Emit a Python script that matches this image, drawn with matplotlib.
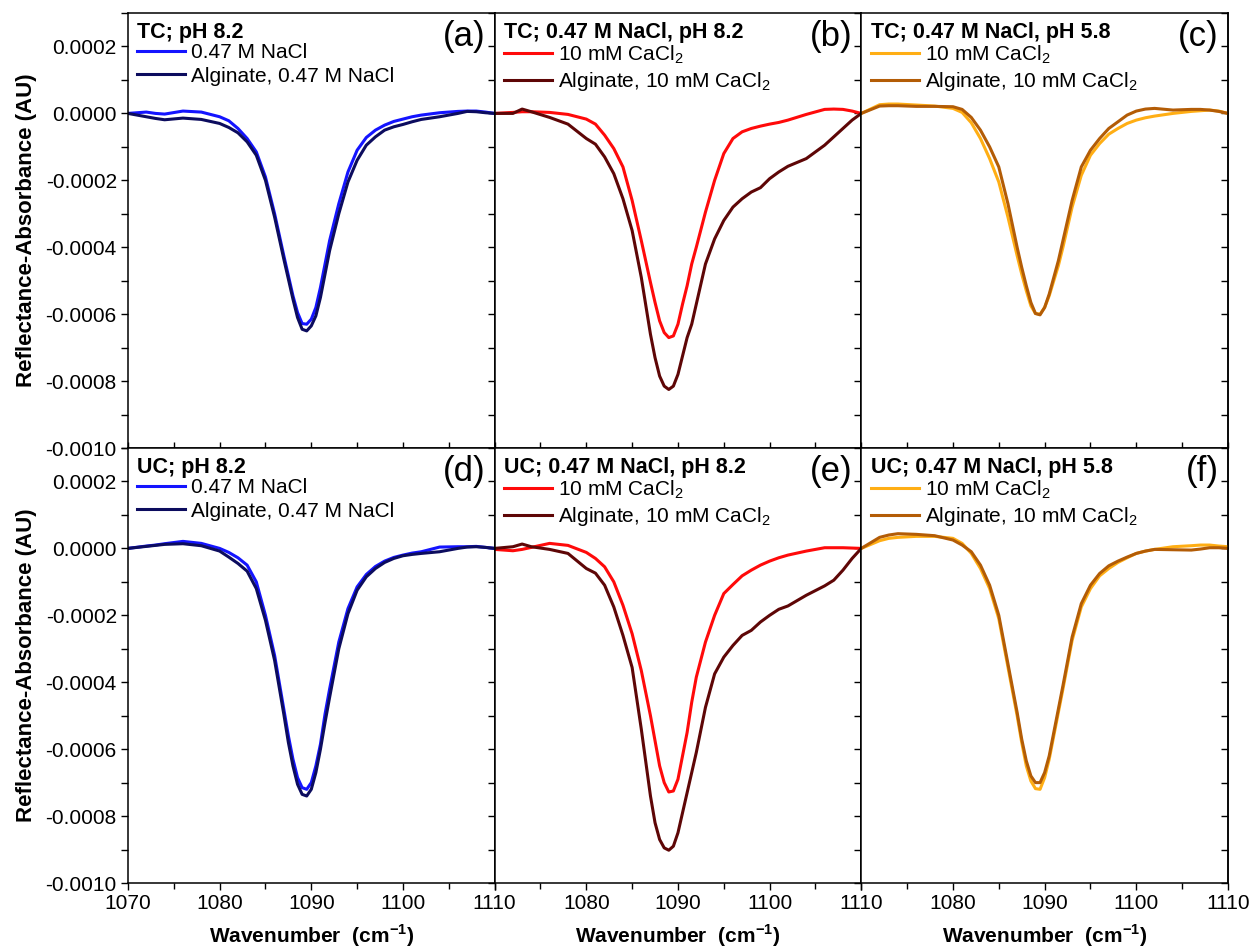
import numpy as np
import matplotlib
matplotlib.use("Agg")
import matplotlib.pyplot as plt
from matplotlib.ticker import MultipleLocator, FormatStrFormatter, FuncFormatter

plt.rcParams['font.family'] = ['Liberation Sans', 'DejaVu Sans']
plt.rcParams['mathtext.fontset'] = 'custom'
plt.rcParams['mathtext.rm'] = 'Liberation Sans'
plt.rcParams['mathtext.bf'] = 'Liberation Sans:bold'
plt.rcParams['axes.unicode_minus'] = False

# wavenumber grid (cm-1) shared by all spectra
wn = np.array([1070, 1072, 1073, 1074, 1076, 1078, 1080, 1081, 1082, 1083, 1084, 1085, 1086, 1087,
               1087.5, 1088, 1088.5, 1089, 1089.5, 1090, 1090.5, 1091, 1091.5,
               1092, 1093, 1094, 1095, 1096, 1097, 1098, 1099, 1100, 1101, 1102,
               1104, 1106, 1107, 1108, 1109, 1110])

# absorbance values in units of 1e-4 AU
# (a) TC; pH 8.2
a_nacl = [0, 0.04, 0.0, -0.02, 0.07, 0.04, -0.10, -0.22, -0.45, -0.75, -1.15, -1.9, -3.0, -4.25,
          -4.85, -5.45, -5.95, -6.28, -6.3, -6.15, -5.8, -5.2, -4.5,
          -3.8, -2.7, -1.75, -1.1, -0.72, -0.5, -0.35, -0.24, -0.17, -0.1, -0.05,
          0.02, 0.06, 0.07, 0.07, 0.04, 0]
a_alg = [0, -0.1, -0.15, -0.19, -0.14, -0.18, -0.3, -0.42, -0.58, -0.85, -1.25, -2.0, -3.1, -4.35,
         -4.95, -5.55, -6.1, -6.45, -6.5, -6.35, -6.05, -5.5, -4.8,
         -4.1, -3.0, -2.05, -1.4, -0.95, -0.7, -0.5, -0.4, -0.33, -0.25, -0.18,
         -0.1, 0.0, 0.06, 0.05, 0.02, 0]
# (b) TC; 0.47 M NaCl, pH 8.2
b_ca = [0, 0.03, 0.05, 0.05, 0.03, -0.03, -0.17, -0.32, -0.65, -1.05, -1.6, -2.6, -3.8, -5.05,
        -5.65, -6.2, -6.55, -6.7, -6.65, -6.3, -5.7, -5.15, -4.5,
        -4.0, -2.95, -2.0, -1.2, -0.75, -0.55, -0.45, -0.38, -0.32, -0.27, -0.2,
        -0.03, 0.12, 0.13, 0.12, 0.07, 0]
b_alg = [0, 0.0, 0.13, 0.05, -0.12, -0.32, -0.75, -0.92, -1.3, -1.8, -2.55, -3.5, -4.9, -6.6,
         -7.3, -7.85, -8.15, -8.25, -8.15, -7.8, -7.25, -6.7, -6.3,
         -5.7, -4.5, -3.75, -3.2, -2.8, -2.55, -2.35, -2.22, -1.95, -1.75, -1.58,
         -1.35, -0.95, -0.7, -0.45, -0.2, 0]
# (c) TC; 0.47 M NaCl, pH 5.8
c_ca = [0, 0.26, 0.28, 0.28, 0.25, 0.22, 0.15, 0.03, -0.28, -0.75, -1.35, -2.05, -3.1, -4.25,
        -4.8, -5.3, -5.75, -5.98, -6.0, -5.8, -5.45, -5.0, -4.55,
        -4.0, -2.8, -1.85, -1.25, -0.9, -0.62, -0.45, -0.3, -0.2, -0.13, -0.08,
        0.0, 0.06, 0.08, 0.1, 0.07, 0]
c_alg = [0, 0.22, 0.23, 0.23, 0.21, 0.21, 0.2, 0.12, -0.12, -0.5, -1.0, -1.6, -2.7, -4.0,
         -4.6, -5.15, -5.65, -5.98, -6.02, -5.8, -5.4, -4.9, -4.4,
         -3.8, -2.6, -1.6, -1.1, -0.75, -0.45, -0.25, -0.05, 0.07, 0.13, 0.15,
         0.1, 0.12, 0.12, 0.1, 0.06, 0]
# (d) UC; pH 8.2
d_nacl = [0, 0.07, 0.1, 0.14, 0.21, 0.15, 0.0, -0.12, -0.28, -0.5, -1.0, -2.0, -3.2, -4.8,
          -5.6, -6.3, -6.85, -7.15, -7.2, -7.0, -6.5, -5.85, -4.95,
          -4.2, -2.8, -1.8, -1.15, -0.78, -0.54, -0.38, -0.27, -0.2, -0.14, -0.1,
          0.04, 0.05, 0.05, 0.06, 0.03, 0]
d_alg = [0, 0.06, 0.09, 0.12, 0.14, 0.08, -0.08, -0.26, -0.45, -0.68, -1.2, -2.15, -3.35, -4.95,
         -5.8, -6.5, -7.05, -7.35, -7.4, -7.2, -6.7, -6.0, -5.2,
         -4.45, -3.0, -1.95, -1.25, -0.85, -0.6, -0.42, -0.3, -0.22, -0.18, -0.15,
         -0.1, 0.0, 0.04, 0.05, 0.03, 0]
# (e) UC; 0.47 M NaCl, pH 8.2
e_ca = [-0.03, -0.07, -0.03, 0.03, 0.15, 0.09, -0.12, -0.3, -0.55, -1.0, -1.7, -2.55, -3.65, -5.0,
        -5.75, -6.5, -7.0, -7.28, -7.25, -6.9, -6.2, -5.5, -4.6,
        -3.85, -2.8, -2.0, -1.35, -1.08, -0.82, -0.65, -0.5, -0.38, -0.28, -0.2,
        -0.08, 0.02, 0.02, 0.02, 0.01, 0]
e_alg = [0, 0.05, 0.13, 0.05, -0.03, -0.15, -0.6, -0.74, -1.1, -1.75, -2.6, -3.56, -5.4, -7.4,
         -8.2, -8.7, -8.95, -9.02, -8.9, -8.5, -7.9, -7.3, -6.7,
         -6.1, -4.75, -3.75, -3.25, -2.9, -2.6, -2.45, -2.2, -2.0, -1.82, -1.72,
         -1.4, -1.12, -0.95, -0.65, -0.3, 0]
# (f) UC; 0.47 M NaCl, pH 5.8
f_ca = [0, 0.23, 0.3, 0.33, 0.36, 0.36, 0.3, 0.15, -0.15, -0.6, -1.2, -2.1, -3.55, -5.0,
        -5.8, -6.5, -6.95, -7.18, -7.2, -6.85, -6.3, -5.6, -4.9,
        -4.2, -2.75, -1.75, -1.2, -0.82, -0.6, -0.42, -0.28, -0.15, -0.08, -0.03,
        0.05, 0.08, 0.1, 0.1, 0.07, 0.05]
f_alg = [0, 0.33, 0.4, 0.44, 0.42, 0.38, 0.25, 0.1, -0.1, -0.5, -1.1, -2.0, -3.45, -4.9,
         -5.7, -6.35, -6.8, -7.0, -7.0, -6.7, -6.2, -5.5, -4.8,
         -4.1, -2.65, -1.65, -1.1, -0.75, -0.52, -0.38, -0.26, -0.15, -0.08, -0.03,
         -0.04, -0.05, -0.02, 0.02, 0.02, 0]

titles = ['TC; pH 8.2', 'TC; 0.47 M NaCl, pH 8.2', 'TC; 0.47 M NaCl, pH 5.8',
          'UC; pH 8.2', 'UC; 0.47 M NaCl, pH 8.2', 'UC; 0.47 M NaCl, pH 5.8']
tags = ['(a)', '(b)', '(c)', '(d)', '(e)', '(f)']
labels_nacl = ['0.47 M NaCl', 'Alginate, 0.47 M NaCl']
labels_ca = ['10 mM CaCl$_2$', 'Alginate, 10 mM CaCl$_2$']
series = [(a_nacl, a_alg), (b_ca, b_alg), (c_ca, c_alg),
          (d_nacl, d_alg), (e_ca, e_alg), (f_ca, f_alg)]
col_colors = [('#1414ff', '#0c0c5e'), ('#ff0a0a', '#5e0606'), ('#ffae14', '#b35c06')]
col_labels = [labels_nacl, labels_ca, labels_ca]

fig, axes = plt.subplots(2, 3, figsize=(12.52, 9.51), dpi=100)
fig.subplots_adjust(left=0.1022, right=0.9808, top=0.9863, bottom=0.0715, wspace=0, hspace=0)

for i, ax in enumerate(axes.flat):
    row, col = divmod(i, 3)
    y1, y2 = series[i]
    c1, c2 = col_colors[col]
    ax.plot(wn, np.array(y1) * 1e-4, color=c1, lw=2.2, label=col_labels[col][0])
    ax.plot(wn, np.array(y2) * 1e-4, color=c2, lw=2.2, label=col_labels[col][1])
    ax.set_xlim(1070, 1110)
    ax.set_ylim(-0.001, 0.0003)
    ax.xaxis.set_major_locator(MultipleLocator(10))
    ax.xaxis.set_minor_locator(MultipleLocator(5))
    ax.yaxis.set_major_locator(MultipleLocator(0.0002))
    ax.yaxis.set_minor_locator(MultipleLocator(0.0001))
    ax.yaxis.set_major_formatter(FormatStrFormatter('%.4f'))
    for s in ax.spines.values():
        s.set_linewidth(1.1)

    # y ticks: outward on the left of the first column only
    ax.tick_params(axis='y', which='both', direction='out', length=5, width=1,
                   left=(col == 0), right=False, labelleft=(col == 0),
                   labelsize=15, pad=3)
    # right-hand ticks point inward
    sec = ax.secondary_yaxis('right')
    sec.yaxis.set_major_locator(MultipleLocator(0.0002))
    sec.yaxis.set_minor_locator(MultipleLocator(0.0001))
    sec.tick_params(axis='y', which='both', direction='in', length=5, width=1, labelright=False)
    sec.spines['right'].set_linewidth(1.1)

    if row == 0:
        ax.tick_params(axis='x', which='both', direction='in', bottom=True, top=False,
                       labelbottom=False, length=4.5, width=1)
    else:
        ax.tick_params(axis='x', which='major', direction='out', length=5, width=1,
                       labelsize=15, pad=3)
        ax.tick_params(axis='x', which='minor', direction='out', length=4, width=1)
        if col > 0:
            ax.xaxis.set_major_formatter(FuncFormatter(lambda v, p: '' if v == 1070 else '%d' % v))
        ax.set_xlabel(r'Wavenumber  (cm$^{\mathbf{-1}}$)', fontsize=15, fontweight='bold',
                      labelpad=7)
    if col == 0:
        ax.set_ylabel('Reflectance-Absorbance (AU)', fontsize=16, fontweight='bold', labelpad=6)

    leg = ax.legend(loc='upper left', bbox_to_anchor=(0.0, 1.0), frameon=False,
                    title=titles[i], alignment='left',
                    title_fontproperties={'weight': 'bold', 'size': 15.5},
                    fontsize=15, handlelength=2.3, handletextpad=0.3,
                    labelspacing=0.2, borderaxespad=0.2, borderpad=0.25)
    leg._legend_box.sep = 0
    ax.text(0.975, 0.985, tags[i], transform=ax.transAxes, ha='right', va='top', fontsize=25)

fig.savefig('out.png', dpi=100)
